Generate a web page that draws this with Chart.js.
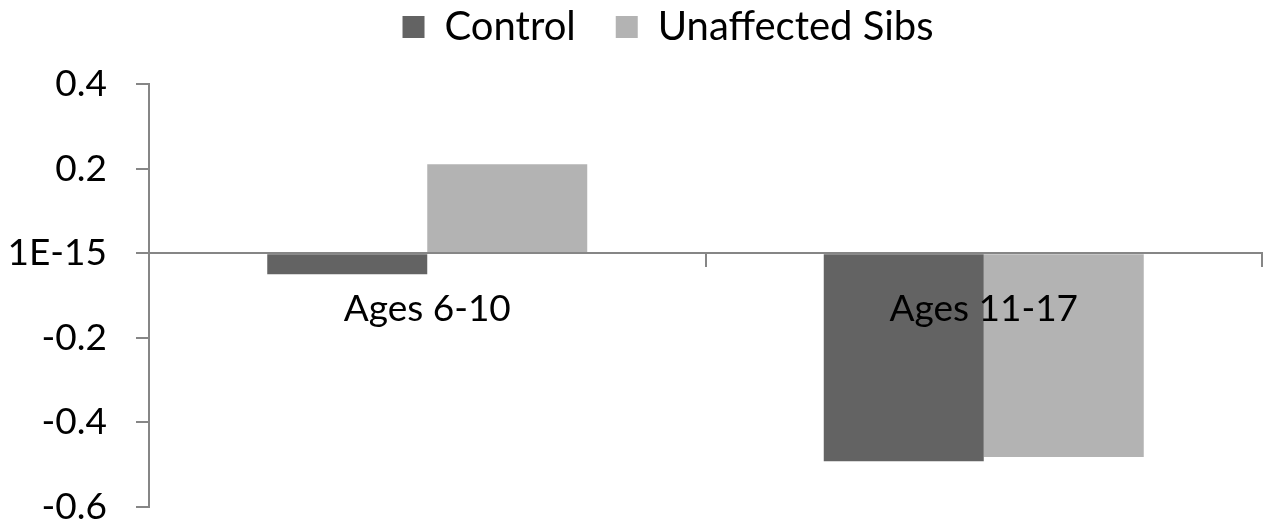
<!DOCTYPE html>
<html>
<head>
<meta charset="utf-8">
<script src="https://cdn.jsdelivr.net/npm/chart.js@4/dist/chart.umd.min.js"></script>
<style>
  html, body { margin: 0; padding: 0; background: #ffffff; }
  canvas { display: block; }
</style>
</head>
<body>
<canvas id="chart" width="1274" height="525"></canvas>
<script>
// Mean scores by age group
const categories = ['Ages 6-10', 'Ages 11-17'];
const controlValues = [-0.05, -0.492];
const sibsValues = [0.21, -0.482];
const yTickLabels = ['-0.6', '-0.4', '-0.2', '1E-15', '0.2', '0.4'];

const FONT_FAMILY = 'Lato';
const FONT_SIZE = 37;
const LEGEND_FONT_SIZE = 40;
const AXIS_GREY = '#868686';
const LEGEND_PAD = 40;
const LEGEND_CENTER_Y = 27;
const PLOT_TOP = 84;
const PLOT_LEFT = 149;
const PLOT_RIGHT_PAD = 12;
const LEGEND_SHIFT_X = 37;

Chart.defaults.font.family = FONT_FAMILY;
Chart.defaults.color = '#000000';

const legendTop = LEGEND_CENTER_Y - LEGEND_PAD - LEGEND_FONT_SIZE / 2;

// Places the legend: extra room below it, and nudged to the right
const legendPlacement = {
  id: 'legendPlacement',
  beforeInit(chart) {
    const fit = chart.legend.fit;
    chart.legend.fit = function () {
      fit.call(this);
      this.height = PLOT_TOP - legendTop;
    };
  },
  afterLayout(chart) {
    chart.legend.left += LEGEND_SHIFT_X;
    chart.legend.right += LEGEND_SHIFT_X;
  }
};

new Chart(document.getElementById('chart'), {
  type: 'bar',
  data: {
    labels: categories,
    datasets: [
      { label: 'Control', data: controlValues, backgroundColor: '#636363', borderWidth: 0 },
      { label: 'Unaffected Sibs', data: sibsValues, backgroundColor: '#b3b3b3', borderWidth: 0 }
    ]
  },
  options: {
    responsive: false,
    animation: false,
    devicePixelRatio: 1,
    layout: { padding: { top: legendTop, left: 0, right: PLOT_RIGHT_PAD, bottom: 18 } },
    datasets: {
      bar: { categoryPercentage: 0.575, barPercentage: 1.0 }
    },
    plugins: {
      legend: {
        position: 'top',
        labels: {
          boxWidth: 22,
          boxHeight: 22,
          padding: LEGEND_PAD,
          color: '#000000',
          font: { size: LEGEND_FONT_SIZE }
        }
      },
      tooltip: { enabled: false }
    },
    scales: {
      x: {
        position: { y: 0 },
        grid: {
          offset: true,
          drawOnChartArea: false,
          drawTicks: true,
          tickLength: 13,
          color: AXIS_GREY,
          lineWidth: 2,
          z: 1
        },
        border: { display: true, color: AXIS_GREY, width: 2, z: 1 },
        ticks: { font: { size: FONT_SIZE }, color: '#000000', padding: 21, maxRotation: 0, z: 2 }
      },
      y: {
        min: -0.6,
        max: 0.4,
        afterFit(scale) {
          scale.width = PLOT_LEFT;
          scale.paddingTop = 0;
          scale.paddingBottom = 0;
        },
        grid: {
          drawOnChartArea: false,
          drawTicks: true,
          tickLength: 13,
          color: AXIS_GREY,
          lineWidth: 2
        },
        border: { display: true, color: AXIS_GREY, width: 2 },
        ticks: {
          stepSize: 0.2,
          padding: 29,
          color: '#000000',
          font: { size: FONT_SIZE },
          callback: (value, index) => yTickLabels[index]
        }
      }
    }
  },
  plugins: [legendPlacement]
});
</script>
</body>
</html>
